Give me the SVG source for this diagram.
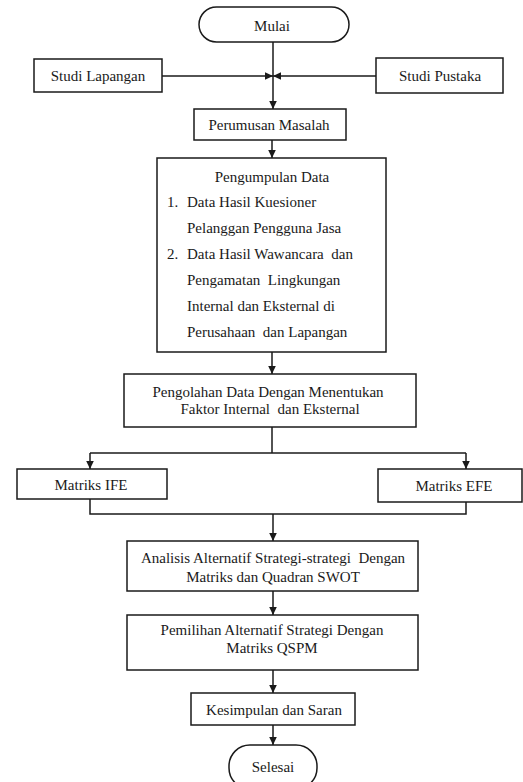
<svg xmlns="http://www.w3.org/2000/svg" width="523" height="782" viewBox="0 0 523 782">
<style>
  .box { fill: #ffffff; stroke: #1a1a1a; stroke-width: 1.5; }
  .t { font-family: 'Liberation Serif', Tinos, 'Times New Roman', 'DejaVu Serif', serif; font-size: 15px; fill: #1a1a1a; white-space: pre; }
  .c { text-anchor: middle; }
  .ln { fill: none; stroke: #1a1a1a; stroke-width: 1.5; }
</style>
<defs>
  <marker id="arr" markerUnits="userSpaceOnUse" markerWidth="10" markerHeight="10" viewBox="0 0 10 10" refX="9" refY="5" orient="auto">
    <path d="M1,1.2 L9,5 L1,8.8 Z" fill="#1a1a1a"/>
  </marker>
</defs>
<rect width="523" height="782" fill="#ffffff"/>

<g id="connectors">
  <path class="ln" d="M273,42 V109" marker-end="url(#arr)"/>
  <path class="ln" d="M162,76 H273" marker-end="url(#arr)"/>
  <path class="ln" d="M376,76 H273" marker-end="url(#arr)"/>
  <path class="ln" d="M272,140 V158" marker-end="url(#arr)"/>
  <path class="ln" d="M272,352 V374" marker-end="url(#arr)"/>
  <path class="ln" d="M272,427 V453"/>
  <path class="ln" d="M90,453 H466"/>
  <path class="ln" d="M90,453 V469" marker-end="url(#arr)"/>
  <path class="ln" d="M466,453 V469" marker-end="url(#arr)"/>
  <path class="ln" d="M90,499 V514 H466 V502"/>
  <path class="ln" d="M273,514 V541" marker-end="url(#arr)"/>
  <path class="ln" d="M273,591 V615" marker-end="url(#arr)"/>
  <path class="ln" d="M273,670 V693" marker-end="url(#arr)"/>
  <path class="ln" d="M273,725 V745" marker-end="url(#arr)"/>
</g>

<g id="mulai">
  <rect class="box" x="199" y="7" width="150" height="35" rx="17.5"/>
  <text class="t c" x="272" y="31" font-family="Liberation Serif, serif">Mulai</text>
</g>
<g id="studi-lapangan">
  <rect class="box" x="34" y="59" width="128" height="33"/>
  <text class="t c" x="98" y="81">Studi Lapangan</text>
</g>
<g id="studi-pustaka">
  <rect class="box" x="376" y="58" width="127" height="35"/>
  <text class="t c" x="440" y="81">Studi Pustaka</text>
</g>
<g id="perumusan">
  <rect class="box" x="194" y="109" width="152" height="31"/>
  <text class="t c" x="269" y="130">Perumusan Masalah</text>
</g>
<g id="pengumpulan">
  <rect class="box" x="157" y="158" width="229" height="194"/>
  <text class="t c" x="272" y="182">Pengumpulan Data</text>
  <text class="t" x="167" y="207">1.</text>
  <text class="t" x="187" y="207">Data Hasil Kuesioner</text>
  <text class="t" x="187" y="233">Pelanggan Pengguna Jasa</text>
  <text class="t" x="167" y="259">2.</text>
  <text class="t" x="187" y="259">Data Hasil Wawancara  dan</text>
  <text class="t" x="187" y="285">Pengamatan  Lingkungan</text>
  <text class="t" x="187" y="311">Internal dan Eksternal di</text>
  <text class="t" x="187" y="337">Perusahaan  dan Lapangan</text>
</g>
<g id="pengolahan">
  <rect class="box" x="124" y="374" width="292" height="53"/>
  <text class="t c" x="268" y="397">Pengolahan Data Dengan Menentukan</text>
  <text class="t c" x="270" y="414">Faktor Internal  dan Eksternal</text>
</g>
<g id="ife">
  <rect class="box" x="17" y="469" width="150" height="30"/>
  <text class="t c" x="91" y="490">Matriks IFE</text>
</g>
<g id="efe">
  <rect class="box" x="378" y="469" width="144" height="33"/>
  <text class="t c" x="454" y="491">Matriks EFE</text>
</g>
<g id="analisis">
  <rect class="box" x="127" y="541" width="291" height="50"/>
  <text class="t c" x="273" y="563">Analisis Alternatif Strategi-strategi  Dengan</text>
  <text class="t c" x="273" y="582">Matriks dan Quadran SWOT</text>
</g>
<g id="pemilihan">
  <rect class="box" x="127" y="615" width="291" height="55"/>
  <text class="t c" x="272" y="635">Pemilihan Alternatif Strategi Dengan</text>
  <text class="t c" x="272" y="653">Matriks QSPM</text>
</g>
<g id="kesimpulan">
  <rect class="box" x="191" y="693" width="164" height="32"/>
  <text class="t c" x="274" y="715">Kesimpulan dan Saran</text>
</g>
<g id="selesai">
  <rect class="box" x="229" y="745" width="88" height="44" rx="21"/>
  <text class="t c" x="273" y="772">Selesai</text>
</g>
</svg>
